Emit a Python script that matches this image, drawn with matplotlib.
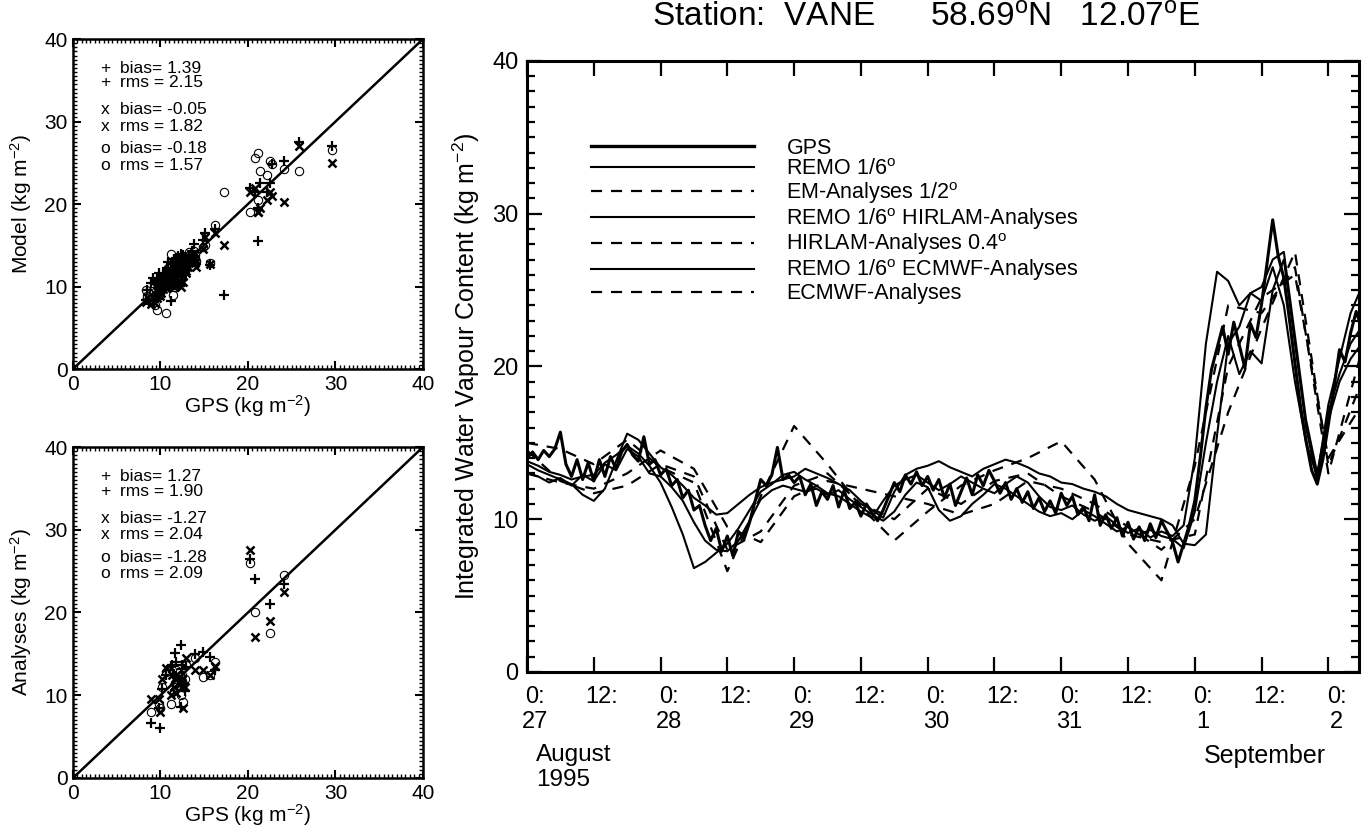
import matplotlib
matplotlib.use("Agg")
import matplotlib.pyplot as plt
import matplotlib.ticker as mticker
import matplotlib.transforms as mtransforms
from matplotlib.lines import Line2D
import numpy as np

plt.rcParams['font.family'] = ['Liberation Sans', 'DejaVu Sans']
plt.rcParams['mathtext.fontset'] = 'custom'
plt.rcParams['mathtext.rm'] = 'Liberation Sans'
plt.rcParams['mathtext.it'] = 'Liberation Sans:italic'
plt.rcParams['mathtext.bf'] = 'Liberation Sans:bold'

# hours since 27 Aug 1995 0:00
gps_hours = np.arange(0, 151, 1)
remo_hours = np.arange(0, 151, 2)
ana_hours = np.arange(0, 151, 6)

gps = [
    14.0, 14.4, 13.9, 14.5, 14.1, 14.6, 15.7, 13.6, 12.8, 13.9,
    12.6, 13.7, 12.5, 13.9, 12.8, 14.1, 13.3, 14.4, 14.9, 14.2,
    13.8, 15.4, 13.6, 13.9, 12.9, 13.3, 12.2, 12.6, 11.4, 11.9,
    10.6, 10.9, 9.6, 8.6, 9.4, 7.9, 8.9, 7.6, 9.2, 8.7,
    9.8, 11.2, 12.6, 12.2, 12.9, 14.7, 12.6, 12.9, 12.4, 12.8,
    11.6, 12.3, 10.9, 11.8, 11.3, 12.2, 10.8, 11.9, 10.7, 11.1,
    10.2, 11.0, 10.4, 9.9, 10.6, 11.5, 12.4, 11.8, 12.9, 12.3,
    13.1, 12.2, 12.8, 11.9, 12.6, 11.4, 12.3, 10.9, 11.8, 12.7,
    11.6, 12.9, 12.2, 13.2, 12.5, 11.7, 12.4, 11.3, 12.0, 11.1,
    11.8, 10.7, 11.4, 10.5, 11.2, 10.4, 11.7, 10.9, 11.5, 10.3,
    10.8, 9.9, 11.6, 9.6, 10.3, 9.4, 10.1, 8.9, 9.8, 8.7,
    9.5, 8.6, 9.7, 8.8, 9.9, 9.2, 8.5, 7.2, 8.4, 9.6,
    11.2, 14.1, 17.3, 19.8, 21.2, 22.6, 20.8, 22.9, 21.4, 19.9,
    22.8, 21.9, 24.1, 26.8, 29.6, 27.2, 25.8, 23.1, 20.2, 17.4,
    15.1, 13.2, 12.3, 13.9, 16.2, 18.6, 21.1, 20.3, 22.2, 23.6,
    22.5,
]

remo = [
    13.6, 13.2, 12.9, 12.6, 12.3, 11.6,
    11.2, 12.0, 13.8, 15.6, 15.2, 14.3,
    13.4, 12.9, 12.2, 11.4, 10.9, 10.3,
    10.4, 11.0, 11.6, 12.1, 12.4, 12.6,
    12.8, 13.3, 13.0, 12.7, 12.3, 11.9,
    11.2, 10.6, 10.1, 11.8, 12.9, 13.3,
    13.5, 13.8, 13.4, 13.1, 12.8, 13.3,
    13.6, 13.9, 13.7, 13.4, 13.0, 12.8,
    12.4, 12.3, 12.0, 11.8, 11.5, 11.0,
    10.6, 10.4, 10.2, 10.0, 9.6, 8.4,
    8.3, 9.0, 15.5, 21.5, 22.6, 24.8,
    25.2, 27.0, 27.5, 22.0, 16.5, 13.0,
    17.0, 19.5, 21.5, 22.6,
]

remo_hirlam = [
    13.0, 12.8, 12.4, 12.7, 12.2, 12.9,
    12.5, 13.6, 13.2, 14.6, 14.1, 13.0,
    12.8, 12.1, 11.2, 9.8, 8.6, 8.0,
    7.9, 8.6, 9.9, 11.3, 11.9, 12.2,
    12.0, 11.8, 12.0, 11.6, 11.9, 11.3,
    10.8, 10.3, 9.9, 10.5, 11.6, 12.4,
    12.1, 10.6, 9.9, 10.2, 11.0, 11.6,
    12.3, 12.0, 11.5, 11.0, 10.5, 10.2,
    10.4, 10.0, 10.6, 10.2, 9.7, 9.2,
    9.5, 9.0, 9.3, 8.9, 8.7, 8.1,
    10.5, 15.0, 19.0, 22.0, 19.5, 21.0,
    20.2, 25.0, 27.0, 21.5, 16.0, 12.5,
    16.5, 19.0, 20.5, 21.5,
]

remo_ecmwf = [
    13.8, 13.5, 13.1, 12.9, 12.6, 12.8,
    12.9, 13.7, 14.2, 14.8, 14.3, 13.5,
    12.4, 10.8, 9.0, 6.8, 7.2, 7.8,
    8.4, 9.4, 10.6, 11.8, 12.3, 12.9,
    13.1, 12.6, 12.2, 11.7, 11.5, 11.0,
    10.5, 10.1, 11.2, 12.2, 12.6, 12.9,
    12.4, 11.9, 12.3, 12.8, 12.4, 12.0,
    11.7, 12.3, 12.8, 12.4, 11.5, 10.8,
    10.6, 10.9, 10.3, 9.9, 10.2, 9.6,
    9.1, 9.4, 8.8, 9.2, 8.9, 9.6,
    14.0, 21.5, 26.2, 25.6, 24.0, 24.8,
    24.3, 26.5, 24.0, 19.0, 15.0, 12.8,
    17.5, 20.5, 23.5, 25.2,
]

em_ana = [15.0, 14.6, 13.6, 15.2, 13.4, 12.4, 6.6, 11.5, 16.1, 13.6, 10.8, 8.6, 10.5,
          12.2, 13.2, 14.0, 15.1, 12.6, 8.4, 6.0, 13.5, 24.0, 23.5, 26.5, 13.0, 21.0]
hirlam_ana = [13.0, 12.4, 12.0, 13.0, 14.5, 13.3, 9.5, 8.5, 11.5, 12.5, 12.0, 11.5, 11.0,
              10.3, 11.0, 12.5, 12.0, 11.0, 9.5, 8.0, 10.0, 17.0, 22.5, 27.5, 13.5, 19.0]
ecmwf_ana = [14.5, 12.5, 11.7, 12.2, 13.6, 12.8, 8.0, 9.2, 12.2, 13.0, 11.0, 10.0, 12.0,
             11.0, 12.5, 13.0, 11.5, 10.5, 9.0, 8.5, 9.0, 20.0, 24.5, 26.0, 14.0, 17.5]

legend_labels = ["GPS", "REMO 1/6$^{\\rm o}$", "EM-Analyses 1/2$^{\\rm o}$",
                 "REMO 1/6$^{\\rm o}$ HIRLAM-Analyses", "HIRLAM-Analyses 0.4$^{\\rm o}$",
                 "REMO 1/6$^{\\rm o}$ ECMWF-Analyses", "ECMWF-Analyses"]

xtick_hours = np.arange(0, 145, 12)
xtick_labels = ["0:\n27", "12:", "0:\n28", "12:", "0:\n29", "12:", "0:\n30", "12:",
                "0:\n31", "12:", "0:\n1", "12:", "0:\n2"]

stats_model = [("+", "bias= 1.39"), ("+", "rms = 2.15"), ("x", "bias= -0.05"),
               ("x", "rms = 1.82"), ("o", "bias= -0.18"), ("o", "rms = 1.57")]
stats_ana = [("+", "bias= 1.27"), ("+", "rms = 1.90"), ("x", "bias= -1.27"),
             ("x", "rms = 2.04"), ("o", "bias= -1.28"), ("o", "rms = 2.09")]

solid = dict(color='black', lw=1.5, ls='-')
dashed = dict(color='black', lw=1.6, ls=(0, (5, 4)))


def style_scatter(ax, ylabel, stats):
    ax.plot([0, 40], [0, 40], color='black', lw=1.8)
    ax.set_xlim(0, 40)
    ax.set_ylim(0, 40)
    ax.xaxis.set_major_locator(mticker.MultipleLocator(10))
    ax.yaxis.set_major_locator(mticker.MultipleLocator(10))
    ax.xaxis.set_minor_locator(mticker.MultipleLocator(0.5))
    ax.yaxis.set_minor_locator(mticker.MultipleLocator(0.5))
    ax.tick_params(which='both', direction='in', top=True, right=True, labelsize=15, pad=4)
    ax.tick_params(which='major', length=6, width=1.5)
    ax.tick_params(which='minor', length=3, width=1.0)
    for s in ax.spines.values():
        s.set_linewidth(1.8)
    ax.set_xlabel("GPS (kg m$^{-2}$)", fontsize=15, labelpad=0)
    ax.set_ylabel(ylabel, fontsize=15)
    ax.yaxis.set_label_coords(-0.11, 0.5)
    ys = [0.912, 0.867, 0.785, 0.736, 0.667, 0.618]
    for (m, t), y in zip(stats, ys):
        ax.text(0.091, y, m, transform=ax.transAxes, ha='center', va='center', fontsize=12.5)
        ax.text(0.134, y, t, transform=ax.transAxes, ha='left', va='center', fontsize=12.5)


fig = plt.figure(figsize=(13.72, 8.36), dpi=100)

# top scatter: REMO runs vs GPS
ax1 = fig.add_axes([0.0532, 0.5586, 0.2551, 0.3947])
g2 = np.array(gps)[::2]
ax1.plot(g2, remo, ls='none', marker='+', ms=7, mew=1.6, color='black')
ax1.plot(g2, remo_hirlam, ls='none', marker='x', ms=6, mew=1.8, color='black')
ax1.plot(g2, remo_ecmwf, ls='none', marker='o', ms=6, mew=0.8, mfc='none', color='black')
style_scatter(ax1, "Model (kg m$^{-2}$)", stats_model)

# bottom scatter: analyses vs GPS
ax2 = fig.add_axes([0.0532, 0.0694, 0.2551, 0.3959])
g6 = np.array(gps)[::6]
ax2.plot(g6, em_ana, ls='none', marker='+', ms=7, mew=1.6, color='black')
ax2.plot(g6, hirlam_ana, ls='none', marker='x', ms=6, mew=1.8, color='black')
ax2.plot(g6, ecmwf_ana, ls='none', marker='o', ms=6, mew=0.8, mfc='none', color='black')
style_scatter(ax2, "Analyses (kg m$^{-2}$)", stats_ana)

# main time series
ax = fig.add_axes([0.3841, 0.1962, 0.6064, 0.7309])
ax.plot(gps_hours, gps, color='black', lw=2.2)
ax.plot(remo_hours, remo, **solid)
ax.plot(ana_hours, em_ana, **dashed)
ax.plot(remo_hours, remo_hirlam, **solid)
ax.plot(ana_hours, hirlam_ana, **dashed)
ax.plot(remo_hours, remo_ecmwf, **solid)
ax.plot(ana_hours, ecmwf_ana, **dashed)

ax.set_xlim(0, 149.5)
ax.set_ylim(0, 40)
ax.set_xticks(xtick_hours)
ax.set_xticklabels(xtick_labels, fontsize=17, linespacing=1.2)
ax.xaxis.set_minor_locator(mticker.FixedLocator(np.arange(12, 145, 24)))
ax.yaxis.set_major_locator(mticker.MultipleLocator(10))
ax.yaxis.set_minor_locator(mticker.MultipleLocator(1))
ax.tick_params(which='both', direction='in', top=True, right=True)
ax.tick_params(axis='x', which='major', length=11, width=1.6, pad=10)
ax.tick_params(axis='x', which='minor', length=6, width=1.6)
ax.tick_params(axis='y', which='major', length=11, width=1.6, labelsize=17, pad=6)
ax.tick_params(axis='y', which='minor', length=6, width=1.6)
for s in ax.spines.values():
    s.set_linewidth(2.2)
offset = mtransforms.ScaledTranslation(6 / 72, 0, fig.dpi_scale_trans)
for lab in ax.get_xticklabels():
    lab.set_transform(lab.get_transform() + offset)

ax.set_ylabel("Integrated Water Vapour Content (kg m$^{-2}$)", fontsize=18)
ax.yaxis.set_label_coords(-0.054, 0.5)

blend = mtransforms.blended_transform_factory(ax.transData, ax.transAxes)
ax.text(1.6, -0.118, "August\n1995", transform=blend, ha='left', va='top', fontsize=17.5,
        linespacing=1.2)
ax.text(121.6, -0.118, "September", transform=blend, ha='left', va='top', fontsize=18)

handles = [Line2D([], [], color='black', lw=2.4),
           Line2D([], [], **solid),
           Line2D([], [], **dashed),
           Line2D([], [], **solid),
           Line2D([], [], **dashed),
           Line2D([], [], **solid),
           Line2D([], [], **dashed)]
ax.legend(handles, legend_labels, loc='upper left', bbox_to_anchor=(0.066, 0.888),
          frameon=False, fontsize=15.5, handlelength=7.6, handletextpad=1.5,
          labelspacing=0.0, borderaxespad=0)

fig.text(0.675, 0.978, "Station:  VANE      58.69$^{\\rm o}$N   12.07$^{\\rm o}$E",
         ha='center', va='center', fontsize=24)

fig.savefig("out.png", dpi=100)
